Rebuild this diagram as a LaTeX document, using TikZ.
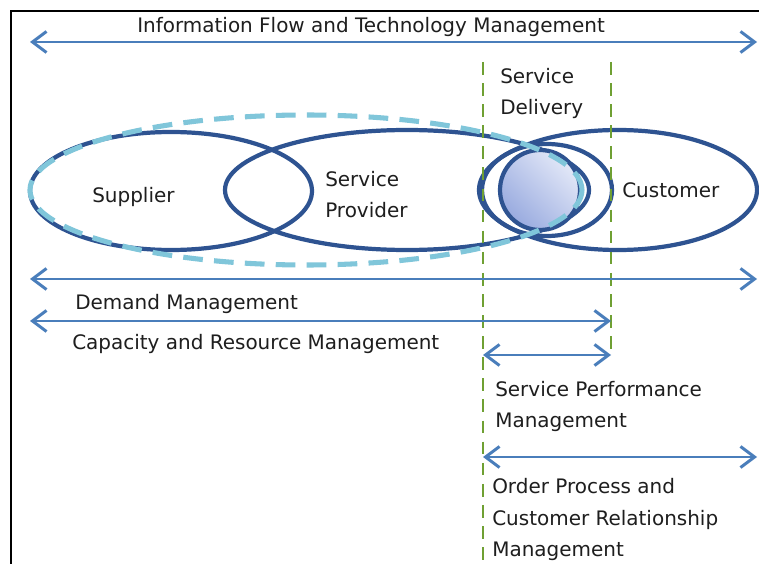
\documentclass[tikz,border=0pt]{standalone}
\usepackage{fontspec}
\setmainfont{DejaVu Sans}
\usepackage{tikz}
\usetikzlibrary{arrows.meta, positioning}
\definecolor{flowblue}{HTML}{4A7EBB}
\definecolor{ringblue}{HTML}{2E5391}
\definecolor{reachblue}{HTML}{80C6DA}
\definecolor{phasegreen}{HTML}{6FA033}
\definecolor{circlight}{HTML}{E4E9F8}
\definecolor{circdark}{HTML}{98AADF}
\definecolor{textgray}{HTML}{1E1E1E}

\begin{document}
\begin{tikzpicture}[x=0.025cm, y=-0.025cm, >={Straight Barb[length=10pt,width=15pt]}]
    \tikzstyle{flow} = [<->, draw=flowblue, line width=2.1pt]
    \tikzstyle{party} = [draw=ringblue, line width=3pt]
    \tikzstyle{reach} = [draw=reachblue, line width=3.6pt, dash pattern=on 14pt off 8pt]
    \tikzstyle{phase} = [draw=phasegreen, line width=2.1pt, dash pattern=on 9pt off 6pt]
    \tikzstyle{lbl} = [inner sep=0pt, anchor=base west, align=left, text=textgray, font=\fontsize{14.2}{22.7}\selectfont]

    \useasboundingbox (0,0) rectangle (759,564);
    \fill[white] (0,0) rectangle (759,564);
    \draw[line width=1.5pt] (11,564) -- (11,11) -- (759,11);

    % parties
    \draw[party] (171,191) ellipse (141 and 59);
    \draw[party] (407,190) ellipse (182 and 60);
    \draw[party] (618,190) ellipse (139 and 60);
    \shade[left color=circlight, right color=circdark, shading angle=-45] (540,190) circle (40);
    \draw[party] (540,190) circle (40);
    \draw[party] (547,190) ellipse (65 and 46);
    \draw[reach] (306,190) ellipse (276 and 75);

    \node[lbl] (supplier) at (92,203) {Supplier};
    \node[lbl] (provider) at (325,218) {Service\\Provider};
    \node[lbl] (customer) at (622,198) {Customer};
    \node[lbl] (delivery) at (500,115) {Service\\Delivery};

    % phase borders
    \coordinate (sd-top) at (483,62);
    \coordinate (sd-bot) at (483,564);
    \coordinate (cu-top) at (611,62);
    \coordinate (cu-bot) at (611,355);
    \draw[phase] (sd-top) -- (sd-bot);
    \draw[phase] (cu-top) -- (cu-bot);

    % management flows
    \coordinate (if-l) at (30,42);
    \coordinate (if-r) at (757,42);
    \coordinate (dm-l) at (30,279);
    \coordinate (dm-r) at (757,279);
    \coordinate (cr-l) at (30,321);
    \coordinate (cr-r) at (611,321);
    \coordinate (sp-l) at (483,355);
    \coordinate (sp-r) at (611,355);
    \coordinate (op-l) at (483,457);
    \coordinate (op-r) at (757,457);
    \draw[flow] (if-l) -- (if-r);
    \draw[flow] (dm-l) -- (dm-r);
    \draw[flow] (cr-l) -- (cr-r);
    \draw[flow] (sp-l) -- (sp-r);
    \draw[flow] (op-l) -- (op-r);

    \node[lbl] (iftext) at (137,33) {Information Flow and Technology Management};
    \node[lbl] (dmtext) at (75,310) {Demand Management};
    \node[lbl] (crtext) at (72,350) {Capacity and Resource Management};
    \node[lbl] (sptext) at (495,428) {Service Performance\\Management};
    \node[lbl] (optext) at (492,557) {Order Process and\\Customer Relationship\\Management};
\end{tikzpicture}
\end{document}
